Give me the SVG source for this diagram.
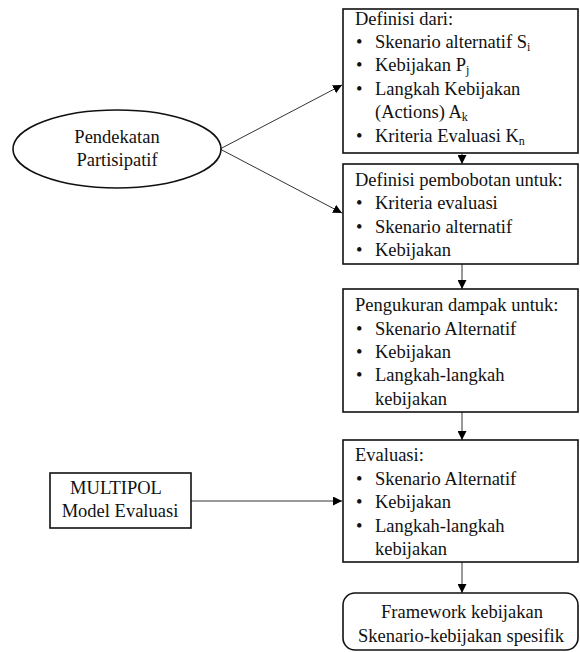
<svg xmlns="http://www.w3.org/2000/svg" width="580" height="652" viewBox="0 0 580 652">
<style>
.box{fill:#fff;stroke:#111;stroke-width:1.6}
.ln{stroke:#333;stroke-width:1;fill:none}
</style>
<defs>
<marker id="ah" viewBox="0 0 10 10" refX="10" refY="5" markerWidth="9" markerHeight="9" markerUnits="userSpaceOnUse" orient="auto">
<path d="M0,0 L10,5 L0,10 z" fill="#000"/>
</marker>
</defs>
<rect width="580" height="652" fill="#fff"/>
<g id="connectors">
<line class="ln" x1="220" y1="149" x2="342" y2="85" marker-end="url(#ah)"/>
<line class="ln" x1="220" y1="149" x2="342" y2="213" marker-end="url(#ah)"/>
<line class="ln" x1="462" y1="153" x2="462" y2="164" marker-end="url(#ah)"/>
<line class="ln" x1="462" y1="264" x2="462" y2="289" marker-end="url(#ah)"/>
<line class="ln" x1="462" y1="412" x2="462" y2="440" marker-end="url(#ah)"/>
<line class="ln" x1="462" y1="562" x2="462" y2="593" marker-end="url(#ah)"/>
<line class="ln" x1="191" y1="501" x2="342" y2="501" marker-end="url(#ah)"/>
</g>
<g font-family="Liberation Serif, Times New Roman, serif" font-size="18.5" fill="#111">
<g id="pendekatan">
<ellipse cx="117" cy="149" rx="104" ry="39" fill="#fff" stroke="#111" stroke-width="1.6"/>
<text text-anchor="middle" x="117" y="143">Pendekatan</text>
<text text-anchor="middle" x="117" y="166">Partisipatif</text>
</g>
<g id="definisi">
<rect class="box" x="343" y="9" width="235" height="144"/>
<text x="355" y="25">Definisi dari:</text>
<text x="356" y="48">•</text><text x="375" y="48">Skenario alternatif S<tspan font-size="12" dy="3">i</tspan></text>
<text x="356" y="71">•</text><text x="375" y="71">Kebijakan P<tspan font-size="12" dy="3">j</tspan></text>
<text x="356" y="95">•</text><text x="375" y="95">Langkah Kebijakan</text>
<text x="375" y="118">(Actions) A<tspan font-size="12" dy="3">k</tspan></text>
<text x="356" y="142">•</text><text x="375" y="142">Kriteria Evaluasi K<tspan font-size="12" dy="3">n</tspan></text>
</g>
<g id="pembobotan">
<rect class="box" x="343" y="164" width="235" height="100"/>
<text x="355" y="186">Definisi pembobotan untuk:</text>
<text x="356" y="209">•</text><text x="375" y="209">Kriteria evaluasi</text>
<text x="356" y="233">•</text><text x="375" y="233">Skenario alternatif</text>
<text x="356" y="256">•</text><text x="375" y="256">Kebijakan</text>
</g>
<g id="pengukuran">
<rect class="box" x="343" y="289" width="235" height="123"/>
<text x="355" y="311">Pengukuran dampak untuk:</text>
<text x="356" y="335">•</text><text x="375" y="335">Skenario Alternatif</text>
<text x="356" y="358">•</text><text x="375" y="358">Kebijakan</text>
<text x="356" y="381">•</text><text x="375" y="381">Langkah-langkah</text>
<text x="375" y="405">kebijakan</text>
</g>
<g id="evaluasi">
<rect class="box" x="343" y="440" width="235" height="122"/>
<text x="355" y="461">Evaluasi:</text>
<text x="356" y="485">•</text><text x="375" y="485">Skenario Alternatif</text>
<text x="356" y="508">•</text><text x="375" y="508">Kebijakan</text>
<text x="356" y="532">•</text><text x="375" y="532">Langkah-langkah</text>
<text x="375" y="555">kebijakan</text>
</g>
<g id="multipol">
<rect class="box" x="50" y="473" width="141" height="55"/>
<text text-anchor="middle" x="116" y="494">MULTIPOL</text>
<text text-anchor="middle" x="120" y="517">Model Evaluasi</text>
</g>
<g id="framework">
<rect class="box" x="343" y="593" width="235" height="57" rx="12" ry="12"/>
<text text-anchor="middle" x="462" y="618">Framework kebijakan</text>
<text text-anchor="middle" x="461" y="642">Skenario-kebijakan spesifik</text>
</g>
</g>
</svg>
